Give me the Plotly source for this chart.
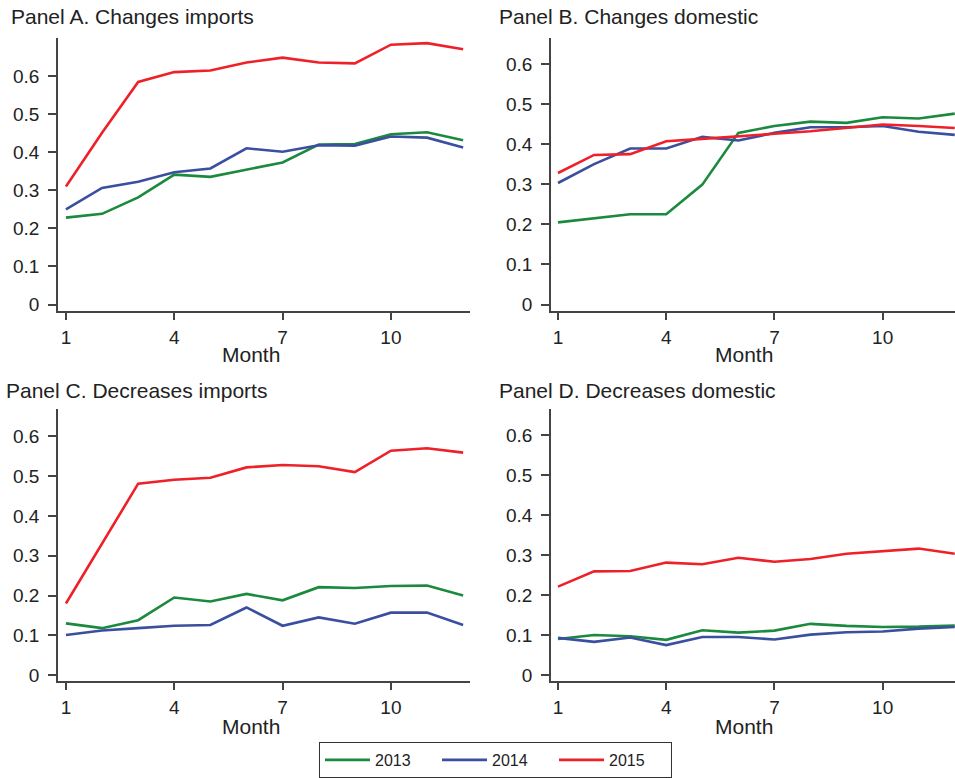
import plotly.graph_objects as go

# Month index shared by every panel
months = list(range(1, 13))
years = ["2013", "2014", "2015"]
colors = {"2013": "#1b8a3f", "2014": "#3a4fa0", "2015": "#ee2129"}

# Panel A. Changes imports
a_2013 = [0.228, 0.238, 0.281, 0.341, 0.335, 0.355, 0.373, 0.420, 0.421, 0.447, 0.452, 0.431]
a_2014 = [0.250, 0.306, 0.322, 0.347, 0.357, 0.410, 0.401, 0.418, 0.417, 0.441, 0.438, 0.412]
a_2015 = [0.310, 0.451, 0.584, 0.610, 0.614, 0.635, 0.648, 0.635, 0.633, 0.682, 0.686, 0.670]

# Panel B. Changes domestic
b_2013 = [0.205, 0.215, 0.225, 0.225, 0.299, 0.428, 0.445, 0.456, 0.453, 0.467, 0.464, 0.476]
b_2014 = [0.303, 0.350, 0.389, 0.389, 0.418, 0.409, 0.428, 0.442, 0.442, 0.445, 0.431, 0.423]
b_2015 = [0.328, 0.373, 0.375, 0.407, 0.413, 0.420, 0.426, 0.432, 0.441, 0.449, 0.445, 0.440]

# Panel C. Decreases imports
c_2013 = [0.130, 0.118, 0.138, 0.195, 0.185, 0.204, 0.188, 0.221, 0.219, 0.224, 0.225, 0.200]
c_2014 = [0.101, 0.112, 0.118, 0.124, 0.126, 0.170, 0.124, 0.145, 0.129, 0.157, 0.157, 0.126]
c_2015 = [0.180, 0.332, 0.481, 0.491, 0.496, 0.522, 0.528, 0.525, 0.510, 0.564, 0.570, 0.559]

# Panel D. Decreases domestic
d_2013 = [0.090, 0.100, 0.097, 0.088, 0.112, 0.106, 0.111, 0.128, 0.123, 0.120, 0.121, 0.124]
d_2014 = [0.093, 0.083, 0.094, 0.075, 0.095, 0.095, 0.089, 0.101, 0.107, 0.109, 0.116, 0.120]
d_2015 = [0.221, 0.259, 0.260, 0.281, 0.277, 0.293, 0.283, 0.290, 0.303, 0.310, 0.316, 0.303]

panel_titles = ["Panel A. Changes imports", "Panel B. Changes domestic",
                "Panel C. Decreases imports", "Panel D. Decreases domestic"]
x_ticks = [1, 4, 7, 10]
y_ticks = [0, 0.1, 0.2, 0.3, 0.4, 0.5, 0.6]
x_title = "Month"

panels = [
    {"2013": a_2013, "2014": a_2014, "2015": a_2015},
    {"2013": b_2013, "2014": b_2014, "2015": b_2015},
    {"2013": c_2013, "2014": c_2014, "2015": c_2015},
    {"2013": d_2013, "2014": d_2014, "2015": d_2015},
]

W, H = 955, 778
FONT = "Liberation Sans, Arial, Helvetica, sans-serif"
AXIS_COLOR = "#444444"
TEXT_COLOR = "#222222"

# pixel boxes of each plotting area: (left, right, top, bottom)
boxes = [
    (58, 470, 38, 313),
    (551, 955, 38, 313),
    (58, 470, 411, 685),
    (551, 955, 411, 685),
]
x_ranges = [[0.78, 12.19], [0.806, 12.006], [0.78, 12.19], [0.806, 12.006]]
y_ranges = [[-0.018, 0.70], [-0.017, 0.665], [-0.016, 0.669], [-0.016, 0.665]]
title_pos = [(9, 17), (497, 17), (4, 393), (497, 393)]
month_pos = [(251, 356), (744, 356), (251, 730), (744, 730)]

fig = go.Figure()

for i, data in enumerate(panels):
    xa = "x" if i == 0 else f"x{i + 1}"
    ya = "y" if i == 0 else f"y{i + 1}"
    for yr in years:
        fig.add_trace(go.Scatter(
            x=months, y=data[yr], mode="lines", name=yr,
            line=dict(color=colors[yr], width=2.6),
            xaxis=xa, yaxis=ya, showlegend=(i == 0),
            hoverinfo="skip",
        ))

    left, right, top, bottom = boxes[i]
    xkey = "xaxis" if i == 0 else f"xaxis{i + 1}"
    ykey = "yaxis" if i == 0 else f"yaxis{i + 1}"
    fig.layout[xkey] = dict(
        domain=[left / W, right / W], anchor=ya, range=x_ranges[i],
        tickvals=x_ticks, ticks="outside", ticklen=7, tickwidth=1.5,
        tickcolor=AXIS_COLOR, showline=True, linecolor=AXIS_COLOR, linewidth=1.5,
        showgrid=False, zeroline=False, ticklabelstandoff=1,
        tickfont=dict(family=FONT, size=19, color=TEXT_COLOR),
    )
    fig.layout[ykey] = dict(
        domain=[1 - bottom / H, 1 - top / H], anchor=xa, range=y_ranges[i],
        tickvals=y_ticks, ticktext=[f"{v:g}" for v in y_ticks],
        ticks="outside", ticklen=8, tickwidth=1.5,
        tickcolor=AXIS_COLOR, showline=True, linecolor=AXIS_COLOR, linewidth=1.5,
        showgrid=False, zeroline=False, ticklabelstandoff=5,
        tickfont=dict(family=FONT, size=19, color=TEXT_COLOR),
    )

    tx, ty = title_pos[i]
    fig.add_annotation(
        text=panel_titles[i], xref="paper", yref="paper",
        x=tx / W, y=1 - ty / H, xanchor="left", yanchor="middle",
        showarrow=False, font=dict(family=FONT, size=21, color=TEXT_COLOR),
    )
    mx, my = month_pos[i]
    fig.add_annotation(
        text=x_title, xref="paper", yref="paper",
        x=mx / W, y=1 - my / H, xanchor="center", yanchor="middle",
        showarrow=False, font=dict(family=FONT, size=21, color=TEXT_COLOR),
    )

fig.update_layout(
    width=W, height=H,
    margin=dict(l=0, r=0, t=0, b=0),
    paper_bgcolor="white", plot_bgcolor="white",
    showlegend=True,
    legend=dict(
        orientation="h", x=495.5 / W, y=-4 / H, xanchor="center", yanchor="bottom",
        bordercolor="#333333", borderwidth=1, bgcolor="white",
        font=dict(family=FONT, size=16, color=TEXT_COLOR),
        itemwidth=45, tracegroupgap=0,
        entrywidth=57, entrywidthmode="pixels",
    ),
)

fig.write_html("out.html")
